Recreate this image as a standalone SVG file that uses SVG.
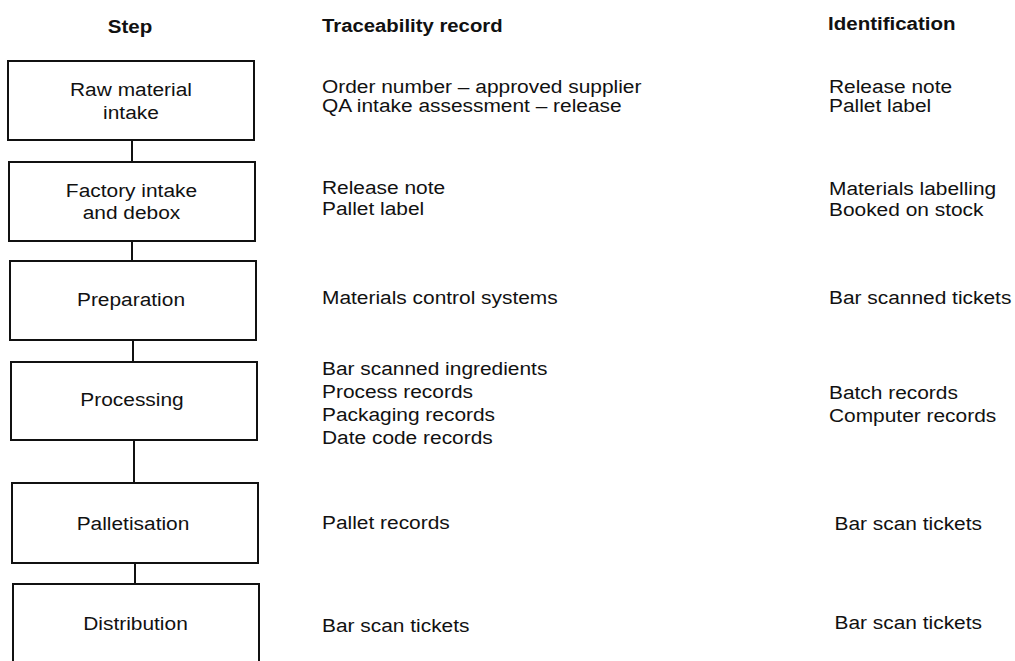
<svg xmlns="http://www.w3.org/2000/svg" width="1015" height="661" viewBox="0 0 1015 661">
<style>
.t{font-family:"Liberation Sans",Arial,sans-serif;font-size:19px;fill:#111}
.h{font-family:"Liberation Sans",Arial,sans-serif;font-size:19px;font-weight:bold;fill:#111}
.c{text-anchor:middle}
.b{fill:#fff;stroke:#111;stroke-width:2}
.l{stroke:#111;stroke-width:2;fill:none}
</style>
<rect width="1015" height="661" fill="#fff"/>
<g id="headers">
<text class="h c" x="130" y="33" transform="translate(130 0) scale(1.08 1) translate(-130 0)">Step</text>
<text class="h" x="322" y="32" transform="translate(322 0) scale(1.07 1) translate(-322 0)">Traceability record</text>
<text class="h" x="828" y="30" transform="translate(828 0) scale(1.08 1) translate(-828 0)">Identification</text>
</g>
<g id="connectors">
<line class="l" x1="132" y1="140" x2="132" y2="162"/>
<line class="l" x1="132" y1="241" x2="132" y2="261"/>
<line class="l" x1="133" y1="340" x2="133" y2="362"/>
<line class="l" x1="134" y1="440" x2="134" y2="483"/>
<line class="l" x1="135" y1="563" x2="135" y2="584"/>
</g>
<g id="n1">
<rect class="b" x="8" y="61" width="246" height="79"/>
<g transform="translate(131 0) scale(1.1 1) translate(-131 0)">
<text class="t c" x="131" y="96">Raw material</text>
<text class="t c" x="131" y="119">intake</text>
</g>
</g>
<g id="n2">
<rect class="b" x="9" y="162" width="246" height="79"/>
<g transform="translate(131.5 0) scale(1.1 1) translate(-131.5 0)">
<text class="t c" x="131.5" y="197">Factory intake</text>
<text class="t c" x="131.5" y="219">and debox</text>
</g>
</g>
<g id="n3">
<rect class="b" x="10" y="261" width="246" height="79"/>
<text class="t c" x="131" y="306" transform="translate(131 0) scale(1.1 1) translate(-131 0)">Preparation</text>
</g>
<g id="n4">
<rect class="b" x="11" y="362" width="246" height="78"/>
<text class="t c" x="132" y="406" transform="translate(132 0) scale(1.1 1) translate(-132 0)">Processing</text>
</g>
<g id="n5">
<rect class="b" x="12" y="483" width="246" height="80"/>
<text class="t c" x="133" y="530" transform="translate(133 0) scale(1.1 1) translate(-133 0)">Palletisation</text>
</g>
<g id="n6">
<rect class="b" x="13" y="584" width="246" height="80"/>
<text class="t c" x="135.5" y="630" transform="translate(135.5 0) scale(1.1 1) translate(-135.5 0)">Distribution</text>
</g>
<g id="traceability" transform="translate(322 0) scale(1.1 1) translate(-322 0)">
<text class="t" x="322" y="93">Order number – approved supplier</text>
<text class="t" x="322" y="112">QA intake assessment – release</text>
<text class="t" x="322" y="194">Release note</text>
<text class="t" x="322" y="215">Pallet label</text>
<text class="t" x="322" y="304">Materials control systems</text>
<text class="t" x="322" y="375">Bar scanned ingredients</text>
<text class="t" x="322" y="398">Process records</text>
<text class="t" x="322" y="421">Packaging records</text>
<text class="t" x="322" y="444">Date code records</text>
<text class="t" x="322" y="529">Pallet records</text>
<text class="t" x="322" y="632">Bar scan tickets</text>
</g>
<g id="identification" transform="translate(829 0) scale(1.1 1) translate(-829 0)">
<text class="t" x="829" y="93">Release note</text>
<text class="t" x="829" y="112">Pallet label</text>
<text class="t" x="829" y="195">Materials labelling</text>
<text class="t" x="829" y="216">Booked on stock</text>
<text class="t" x="829" y="304">Bar scanned tickets</text>
<text class="t" x="829" y="399">Batch records</text>
<text class="t" x="829" y="422">Computer records</text>
<text class="t" x="834" y="530">Bar scan tickets</text>
<text class="t" x="834" y="629">Bar scan tickets</text>
</g>
</svg>
